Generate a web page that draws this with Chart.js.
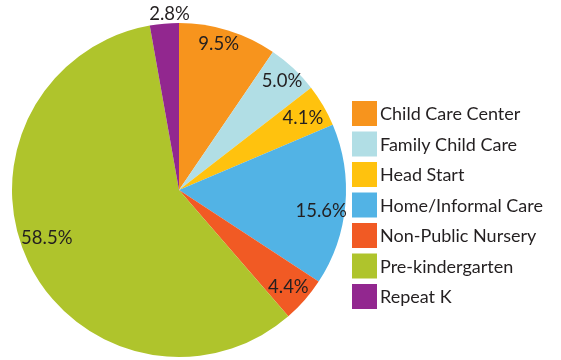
<!DOCTYPE html>
<html>
<head>
<meta charset="utf-8">
<script src="https://cdn.jsdelivr.net/npm/chart.js@4.4.1/dist/chart.umd.min.js"></script>
<style>
  html, body { margin: 0; padding: 0; background: #fff; }
  #wrap { width: 561px; height: 360px; position: relative; }
</style>
</head>
<body>
<div id="wrap"><canvas id="myChart" width="561" height="360"></canvas></div>
<script>
// Care settings and their shares (percent)
const categories = ['Child Care Center', 'Family Child Care', 'Head Start', 'Home/Informal Care', 'Non-Public Nursery', 'Pre-kindergarten', 'Repeat K'];
const shares = [9.5, 5.0, 4.1, 15.6, 4.4, 58.5, 2.8];
const sliceColors = ['#F7941D', '#B1DEE5', '#FFC20E', '#52B3E5', '#F15A24', '#AFC42C', '#92278F'];

// how far out each percentage sits, as a fraction of the radius
const labelRadius = [0.91, 0.90, 0.86, 0.86, 0.87, 0.84, 1.06];
const labelShift = [-2, 0, 0, 3, 0, 6, 2]; // degrees, clockwise

const FONT = 'Lato, "DejaVu Sans", sans-serif';

const pctLabels = {
  id: 'pctLabels',
  afterDatasetsDraw(chart) {
    const c = chart.ctx;
    const arcs = chart.getDatasetMeta(0).data;
    c.save();
    c.font = '18.5px ' + FONT;
    c.fillStyle = '#231F20';
    c.textAlign = 'center';
    c.textBaseline = 'middle';
    arcs.forEach((arc, i) => {
      const mid = (arc.startAngle + arc.endAngle) / 2 + labelShift[i] * Math.PI / 180;
      const r = arc.outerRadius * labelRadius[i];
      c.fillText(shares[i].toFixed(1) + '%', arc.x + Math.cos(mid) * r, arc.y + Math.sin(mid) * r + 1);
    });
    c.restore();
  }
};

const sideLegend = {
  id: 'sideLegend',
  afterDraw(chart) {
    const c = chart.ctx;
    const x = 352, top = 101, step = 30.5, box = 25;
    c.save();
    c.font = '18px ' + FONT;
    c.textBaseline = 'middle';
    c.textAlign = 'left';
    categories.forEach((name, i) => {
      const y = top + i * step;
      c.fillStyle = sliceColors[i];
      c.fillRect(x, y, box, box);
      c.fillStyle = '#231F20';
      c.fillText(name, x + 28, y + box / 2 + 1);
    });
    c.restore();
  }
};

const ctx = document.getElementById('myChart').getContext('2d');
const myChart = new Chart(ctx, {
  type: 'pie',
  data: {
    labels: categories,
    datasets: [{
      data: shares,
      backgroundColor: sliceColors,
      borderColor: '#ffffff',
      borderWidth: 0,
      hoverOffset: 0
    }]
  },
  options: {
    responsive: false,
    animation: false,
    layout: { padding: { top: 23, bottom: 3, left: 12, right: 215 } },
    plugins: {
      legend: { display: false },
      tooltip: { enabled: false }
    }
  },
  plugins: [pctLabels, sideLegend]
});
</script>
</body>
</html>
